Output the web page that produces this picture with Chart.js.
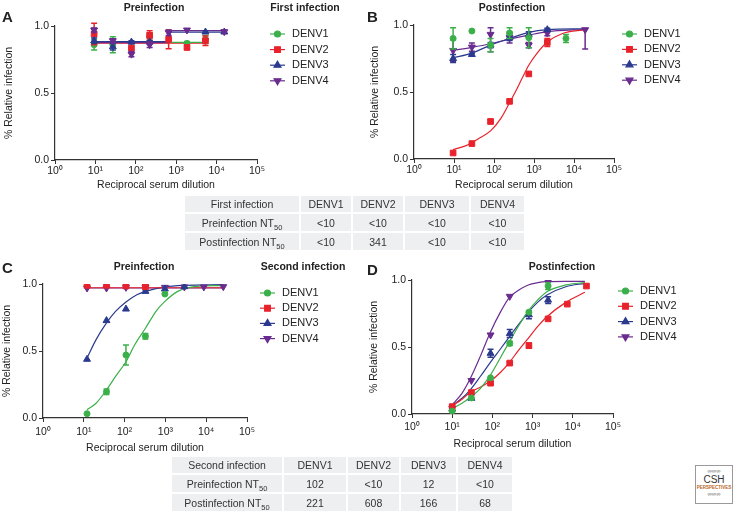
<!DOCTYPE html>
<html>
<head>
<meta charset="utf-8">
<script src="https://cdn.jsdelivr.net/npm/chart.js@4.4.0/dist/chart.umd.min.js"></script>
<style>
  body { margin: 0; background: #fff; font-family: 'Liberation Sans', Arial, sans-serif; color: #222; }
  #page { position: relative; width: 744px; height: 514px; overflow: hidden; }
  #page canvas { position: absolute; }
  .ttl { position: absolute; font-weight: bold; font-size: 10.5px; white-space: nowrap; transform: translate(-50%, -50%); }
  .letter { position: absolute; font-weight: bold; font-size: 15px; line-height: 15px; }
  table.nt { position: absolute; border-collapse: separate; border-spacing: 2px; font-size: 10.5px; color: #333; }
  table.nt td { background: #eeeff1; text-align: center; padding: 0; line-height: 12px; }
  table.nt sub { font-size: 7.5px; line-height: 0; }
  #logo { position: absolute; left: 695px; top: 465px; width: 36px; height: 37px; border: 1px solid #9a9a9a; text-align: center; }
</style>
</head>
<body>
<div id="page">
  <canvas id="chartA" width="372" height="200" style="left:0;top:0;width:372px;height:200px"></canvas>
  <canvas id="chartB" width="378" height="200" style="left:366px;top:0;width:378px;height:200px"></canvas>
  <canvas id="chartC" width="372" height="210" style="left:0;top:250px;width:372px;height:210px"></canvas>
  <canvas id="chartD" width="378" height="205" style="left:366px;top:250px;width:378px;height:205px"></canvas>

  <div class="letter" style="left:2px;top:9px">A</div>
  <div class="letter" style="left:367px;top:9px">B</div>
  <div class="letter" style="left:2px;top:260px">C</div>
  <div class="letter" style="left:367px;top:262px">D</div>

  <div class="ttl" style="left:154px;top:7px">Preinfection</div>
  <div class="ttl" style="left:305px;top:7px">First infection</div>
  <div class="ttl" style="left:512px;top:7px">Postinfection</div>
  <div class="ttl" style="left:144px;top:266px">Preinfection</div>
  <div class="ttl" style="left:303px;top:266px">Second infection</div>
  <div class="ttl" style="left:562px;top:266px">Postinfection</div>

  <table class="nt" style="left:183px;top:194px">
    <colgroup><col style="width:114px"><col style="width:50px"><col style="width:50px"><col style="width:64px"><col style="width:53px"></colgroup>
    <tr style="height:16px"><td>First infection</td><td>DENV1</td><td>DENV2</td><td>DENV3</td><td>DENV4</td></tr>
    <tr style="height:17px"><td>Preinfection NT<sub>50</sub></td><td>&lt;10</td><td>&lt;10</td><td>&lt;10</td><td>&lt;10</td></tr>
    <tr style="height:17px"><td>Postinfection NT<sub>50</sub></td><td>&lt;10</td><td>341</td><td>&lt;10</td><td>&lt;10</td></tr>
  </table>

  <table class="nt" style="left:170px;top:455px">
    <colgroup><col style="width:110px"><col style="width:62px"><col style="width:51px"><col style="width:55px"><col style="width:54px"></colgroup>
    <tr style="height:16px"><td>Second infection</td><td>DENV1</td><td>DENV2</td><td>DENV3</td><td>DENV4</td></tr>
    <tr style="height:17px"><td>Preinfection NT<sub>50</sub></td><td>102</td><td>&lt;10</td><td>12</td><td>&lt;10</td></tr>
    <tr style="height:17px"><td>Postinfection NT<sub>50</sub></td><td>221</td><td>608</td><td>166</td><td>68</td></tr>
  </table>

  <div id="logo">
    <div style="font-size:6px;color:#555;line-height:7px;margin-top:2px">&#8734;&#8734;&#8734;</div>
    <div style="font-size:10px;line-height:10px;color:#333">CSH</div>
    <div style="font-size:4.5px;line-height:6px;color:#b8671e;font-weight:bold">PERSPECTIVES</div>
    <div style="font-size:6px;color:#555;line-height:7px">&#8734;&#8734;&#8734;</div>
  </div>
</div>

<script>
// serotypes
const seriesNames = ['DENV1', 'DENV2', 'DENV3', 'DENV4'];

// axis ticks
const xTickValues = [1, 10, 100, 1000, 10000, 100000];
const xTickLabels = ['10\u2070', '10\u00b9', '10\u00b2', '10\u00b3', '10\u2074', '10\u2075'];
const yTickLabels = ['0.0', '0.5', '1.0'];

// A - first infection, preinfection
const doseA = [9.3, 27, 78, 220, 650, 1850, 5300, 15500];
const aDenv1 = [0.86, 0.86, null, 0.92, null, 0.87, 0.90, null];
const aErr1 = [0.04, 0.06, 0, 0.03, 0, 0.015, 0.03, 0];
const aDenv2 = [0.94, null, 0.835, 0.93, 0.90, 0.84, 0.89, null];
const aErr2 = [0.08, 0, 0.035, 0.035, 0.07, 0.015, 0.035, 0];
const aDenv3 = [0.89, 0.845, 0.88, 0.88, null, null, 0.955, 0.955];
const aErr3 = [0.02, 0.025, 0.01, 0.01, 0, 0, 0.01, 0.01];
const aDenv4 = [0.97, 0.89, 0.79, 0.86, 0.95, 0.97, null, 0.958];
const aErr4 = [0.015, 0.015, 0.02, 0.02, 0.02, 0, 0, 0];
const aFit1X = [9.3, 5300], aFit1Y = [0.878, 0.878];
const aFit2X = [9.3, 5300], aFit2Y = [0.872, 0.872];
const aFit3X = [9.3, 650, 720, 15500], aFit3Y = [0.883, 0.883, 0.955, 0.955];
const aFit4X = [9.3, 650, 700, 740, 15500], aFit4Y = [0.876, 0.876, 0.93, 0.965, 0.965];

// B - first infection, postinfection
const doseB = [9.5, 28, 82, 245, 740, 2150, 6300, 19000];
const bDenv1 = [0.90, 0.955, 0.85, 0.94, 0.905, null, 0.90, null];
const bErr1 = [0.08, 0, 0.05, 0.04, 0.075, 0, 0.03, 0];
const bDenv2 = [0.045, 0.115, 0.28, 0.43, 0.635, 0.87, null, null];
const bErr2 = [0, 0, 0.015, 0, 0, 0.03, 0, 0];
const bDenv3 = [0.75, 0.78, 0.85, 0.905, 0.93, 0.965, null, null];
const bErr3 = [0.03, 0.01, 0.02, 0.02, 0.02, 0.01, 0, 0];
const bDenv4 = [0.81, 0.835, 0.93, 0.905, 0.85, 0.94, null, 0.965];
const bErr4 = [0.08, 0.03, [0.13, 0.05], 0.04, 0.02, 0.02, 0, [0.145, 0.005]];
const bFitX = [9.5, 28, 82, 245, 740, 2150, 19000];
const bFit3Y = [0.755, 0.79, 0.85, 0.90, 0.945, 0.965, 0.972];
const bFit4Y = [0.81, 0.833, 0.86, 0.895, 0.925, 0.95, 0.968];
const bFit2X = [9.5, 20, 40, 82, 150, 245, 341, 500, 740, 1200, 2150, 5000, 19000];
const bFit2Y = [0.07, 0.10, 0.15, 0.21, 0.305, 0.42, 0.5, 0.60, 0.70, 0.79, 0.873, 0.935, 0.965];

// C - second infection, preinfection
const doseC = [12, 36, 108, 324, 972, 2916, 8748, 26244];
const cDenv1 = [0.032, 0.196, 0.47, 0.61, 0.925, null, null, null];
const cErr1 = [0, 0.02, 0.075, 0.02, 0, 0, 0, 0];
const cDenv2 = [0.99, 0.99, 0.985, 0.98, null, null, null, null];
const cErr2 = [0, 0, 0, 0.01, 0, 0, 0, 0];
const cDenv3 = [0.438, 0.727, 0.813, 0.945, 0.963, 0.98, null, null];
const cErr3 = [0, 0, 0, 0.01, 0, 0, 0, 0];
const cDenv4 = [0.97, 0.97, 0.975, 0.975, 0.975, 0.978, 0.978, 0.98];
const cErr4 = [0, 0, 0, 0, 0, 0, 0, 0];
const cFit1X = [12, 20, 36, 60, 108, 180, 324, 600, 972, 2000, 4000, 26244];
const cFit1Y = [0.062, 0.11, 0.21, 0.31, 0.42, 0.55, 0.67, 0.80, 0.87, 0.945, 0.975, 0.99];
const cFit2X = [12, 26244], cFit2Y = [0.972, 0.972];
const cFit3X = [12, 20, 36, 60, 108, 200, 324, 972, 2916, 26244];
const cFit3Y = [0.448, 0.585, 0.71, 0.796, 0.866, 0.92, 0.945, 0.978, 0.99, 0.995];
const cFit4X = [12, 26244], cFit4Y = [0.97, 0.97];

// D - second infection, postinfection
const doseD = [10, 30, 90, 270, 810, 2430, 7290, 21870];
const dDenv1 = [0.022, 0.12, 0.27, 0.527, 0.76, 0.955, null, null];
const dErr1 = [0, 0, 0, 0.015, 0, 0.025, 0, 0];
const dDenv2 = [0.055, 0.16, 0.23, 0.38, 0.51, 0.71, 0.82, 0.955];
const dErr2 = [0.01, 0.01, 0.01, 0.01, 0.02, 0, 0, 0];
const dDenv3 = [0.037, 0.117, 0.453, 0.60, 0.74, 0.85, null, null];
const dErr3 = [0, 0, 0.03, 0.03, 0.03, 0.025, 0, 0];
const dDenv4 = [0.042, 0.25, 0.59, 0.878, null, 0.988, null, null];
const dErr4 = [0, 0, 0, 0, 0, 0, 0, 0];
const dFitX = [10.2, 17.5, 29.8, 50, 89, 158, 266, 455, 780, 1330, 2270, 6700, 20000];
const dFit1Y = [0.042, 0.08, 0.13, 0.19, 0.29, 0.42, 0.54, 0.66, 0.77, 0.85, 0.913, 0.963, 0.98];
const dFit2Y = [0.062, 0.11, 0.167, 0.20, 0.246, 0.31, 0.386, 0.478, 0.565, 0.652, 0.726, 0.833, 0.908];
const dFit3Y = [0.067, 0.117, 0.19, 0.28, 0.386, 0.485, 0.577, 0.67, 0.76, 0.833, 0.888, 0.95, 0.975];
const dFit4Y = [0.072, 0.154, 0.28, 0.43, 0.61, 0.76, 0.87, 0.925, 0.963, 0.98, 0.988, 0.99, 0.99];

// look of the four serotypes
const colors = ['#3bb04a', '#e8222b', '#2b3a8e', '#6a2c8f'];
const markers = ['circle', 'rect', 'triangle', 'triangle'];
const markerRot = [0, 0, 0, 180];
const markerSize = [3, 4, 4, 4];
const FONT = "'Liberation Sans', Arial, sans-serif";

function pointSet(i, dose, vals, errs, order) {
  const pts = [];
  dose.forEach((d, k) => {
    if (vals[k] != null) pts.push({ x: d, y: vals[k], e: errs[k] });
  });
  return {
    label: seriesNames[i], data: pts, withErr: true, order: order || 0,
    borderColor: colors[i], backgroundColor: colors[i],
    pointStyle: markers[i], pointRotation: markerRot[i], pointRadius: markerSize[i],
    pointBorderWidth: 1, showLine: false
  };
}

function fitSet(i, xs, ys, smooth, order) {
  return {
    type: 'line', label: seriesNames[i] + ' fit', order: 10 + (order || 0),
    data: xs.map((x, k) => ({ x: x, y: ys[k] })),
    borderColor: colors[i], borderWidth: 1.2, pointRadius: 0,
    fill: false, tension: 0, cubicInterpolationMode: smooth ? 'monotone' : 'default'
  };
}

// vertical SEM bars, drawn just before the markers of each set
const errorBars = {
  id: 'errorBars',
  beforeDatasetDraw(chart, args) {
    const ds = chart.data.datasets[args.index];
    if (!ds.withErr) return;
    const ys = chart.scales.y, ctx = chart.ctx;
    ctx.save();
    ctx.strokeStyle = ds.borderColor;
    ctx.lineWidth = 1.5;
    args.meta.data.forEach((pt, k) => {
      const e = ds.data[k].e;
      if (!e) return;
      const dn = Array.isArray(e) ? e[0] : e;
      const up = Array.isArray(e) ? e[1] : e;
      const v = ds.data[k].y;
      const y1 = ys.getPixelForValue(v + up), y2 = ys.getPixelForValue(v - dn);
      ctx.beginPath();
      ctx.moveTo(pt.x, y1); ctx.lineTo(pt.x, y2);
      ctx.moveTo(pt.x - 3, y1); ctx.lineTo(pt.x + 3, y1);
      ctx.moveTo(pt.x - 3, y2); ctx.lineTo(pt.x + 3, y2);
      ctx.stroke();
    });
    ctx.restore();
  }
};

// legend at the right of the plot: short line + marker + name, DENV1 first
const sideLegend = {
  id: 'sideLegend',
  afterDraw(chart, args, opts) {
    const ctx = chart.ctx;
    const x0 = chart.chartArea.right + opts.dx;
    const sets = chart.data.datasets.filter(d => d.withErr)
      .sort((p, q) => seriesNames.indexOf(p.label) - seriesNames.indexOf(q.label));
    sets.forEach((ds, i) => {
      const y = opts.top + i * opts.step;
      ctx.save();
      ctx.strokeStyle = ds.borderColor;
      ctx.fillStyle = ds.backgroundColor;
      ctx.lineWidth = 1.2;
      ctx.beginPath(); ctx.moveTo(x0, y); ctx.lineTo(x0 + 15, y); ctx.stroke();
      Chart.helpers.drawPoint(ctx, { pointStyle: ds.pointStyle, rotation: ds.pointRotation, radius: ds.pointRadius, borderWidth: 1 }, x0 + 7.5, y);
      ctx.fillStyle = '#222';
      ctx.font = '11px ' + FONT;
      ctx.textBaseline = 'middle';
      ctx.fillText(ds.label, x0 + 22, y);
      ctx.restore();
    });
  }
};

function makePanel(id, datasets, lay) {
  return new Chart(document.getElementById(id), {
    type: 'scatter',
    data: { datasets: datasets },
    plugins: [errorBars, sideLegend],
    options: {
      responsive: false, animation: false,
      layout: { padding: lay.pad },
      plugins: {
        legend: { display: false }, tooltip: { enabled: false },
        sideLegend: lay.legend
      },
      scales: {
        x: {
          type: 'logarithmic', min: 1, max: 100000,
          afterBuildTicks: s => { s.ticks = xTickValues.map(v => ({ value: v })); },
          afterFit: s => { s.height = lay.xH; },
          ticks: {
            autoSkip: false, maxRotation: 0, padding: lay.xPad,
            color: '#222', font: { size: 10.5, family: FONT },
            callback: (v, i) => xTickLabels[i]
          },
          grid: { drawOnChartArea: false, tickLength: 4, color: '#333', lineWidth: 1 },
          border: { display: true, color: '#333', width: 1.2 },
          title: { display: true, text: 'Reciprocal serum dilution', color: '#222', padding: 0, font: { size: 10.5, family: FONT } }
        },
        y: {
          min: 0, max: 1,
          afterBuildTicks: s => { s.ticks = yTickLabels.map(t => ({ value: parseFloat(t) })); },
          afterFit: s => { s.width = lay.yW; },
          ticks: {
            padding: 2, color: '#222', font: { size: 10.5, family: FONT },
            callback: (v, i) => yTickLabels[i]
          },
          grid: { drawOnChartArea: false, tickLength: 4, color: '#333', lineWidth: 1 },
          border: { display: true, color: '#333', width: 1.2 },
          title: { display: true, text: '% Relative infection', color: '#222', padding: 0, font: { size: 10.5, family: FONT } }
        }
      }
    }
  });
}

// lower order is drawn on top
makePanel('chartA', [
  pointSet(0, doseA, aDenv1, aErr1, 3), pointSet(1, doseA, aDenv2, aErr2, 2),
  pointSet(2, doseA, aDenv3, aErr3, 1), pointSet(3, doseA, aDenv4, aErr4, 0),
  fitSet(0, aFit1X, aFit1Y, false, 2), fitSet(1, aFit2X, aFit2Y, false, 3),
  fitSet(2, aFit3X, aFit3Y, false, 0), fitSet(3, aFit4X, aFit4Y, false, 1)
], {
  pad: { left: 3, right: 115, top: 26, bottom: 9 }, yW: 52, xH: 31, xPad: 1,
  legend: { dx: 13, top: 34, step: 15.6 }
});

makePanel('chartB', [
  pointSet(0, doseB, bDenv1, bErr1), pointSet(1, doseB, bDenv2, bErr2),
  pointSet(2, doseB, bDenv3, bErr3), pointSet(3, doseB, bDenv4, bErr4),
  fitSet(1, bFit2X, bFit2Y, true), fitSet(2, bFitX, bFit3Y, true), fitSet(3, bFitX, bFit4Y, true)
], {
  pad: { left: 3, right: 130, top: 25, bottom: 9 }, yW: 45, xH: 32, xPad: 1,
  legend: { dx: 8, top: 34, step: 15.4 }
});

makePanel('chartC', [
  pointSet(0, doseC, cDenv1, cErr1), pointSet(1, doseC, cDenv2, cErr2),
  pointSet(2, doseC, cDenv3, cErr3), pointSet(3, doseC, cDenv4, cErr4),
  fitSet(0, cFit1X, cFit1Y, true), fitSet(1, cFit2X, cFit2Y, false),
  fitSet(2, cFit3X, cFit3Y, true), fitSet(3, cFit4X, cFit4Y, false)
], {
  pad: { left: 1, right: 125, top: 34, bottom: 6 }, yW: 42, xH: 36, xPad: 4,
  legend: { dx: 13, top: 43, step: 15.2 }
});

makePanel('chartD', [
  pointSet(0, doseD, dDenv1, dErr1), pointSet(1, doseD, dDenv2, dErr2),
  pointSet(2, doseD, dDenv3, dErr3), pointSet(3, doseD, dDenv4, dErr4),
  fitSet(0, dFitX, dFit1Y, true), fitSet(1, dFitX, dFit2Y, true),
  fitSet(2, dFitX, dFit3Y, true), fitSet(3, dFitX, dFit4Y, true)
], {
  pad: { left: 2, right: 131, top: 30, bottom: 5 }, yW: 44, xH: 36, xPad: 3,
  legend: { dx: 5, top: 41, step: 15.3 }
});
</script>
</body>
</html>
